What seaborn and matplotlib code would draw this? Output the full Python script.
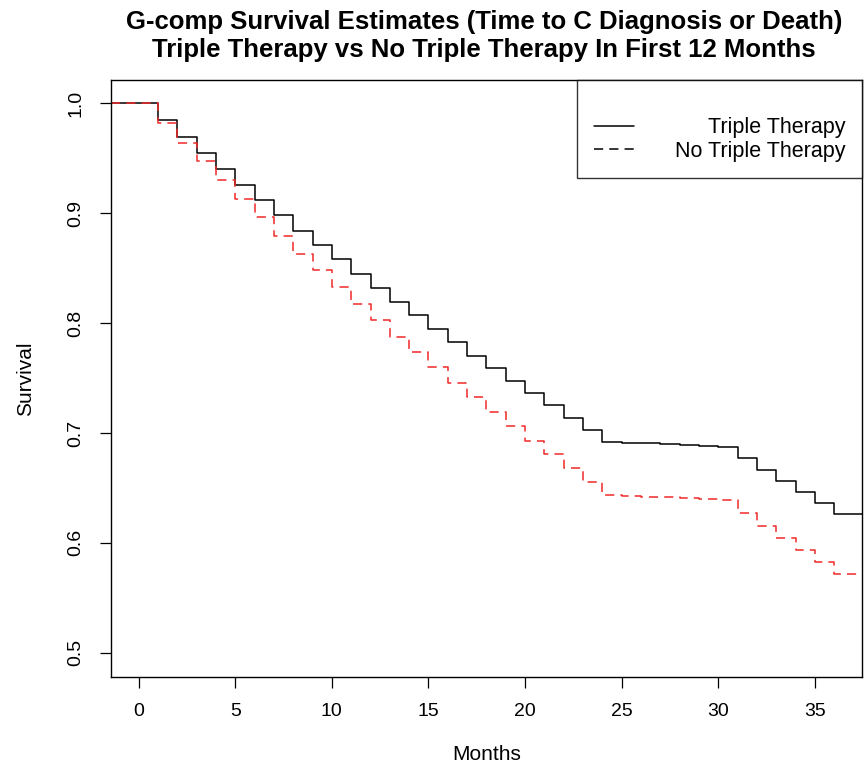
import matplotlib
matplotlib.use("Agg")
import matplotlib.pyplot as plt
import numpy as np
import pandas as pd
import seaborn as sns
from matplotlib.lines import Line2D

# survival estimate on each month interval [m, m+1)
months = list(range(0, 37))
triple = [1.0, 0.9845, 0.969, 0.955, 0.940, 0.926, 0.912, 0.898, 0.884, 0.871,
          0.858, 0.845, 0.832, 0.8195, 0.807, 0.7945, 0.7825, 0.770, 0.759, 0.747,
          0.736, 0.725, 0.714, 0.703, 0.692, 0.691, 0.6905, 0.690, 0.689, 0.688,
          0.6873, 0.677, 0.6667, 0.6567, 0.6467, 0.6367, 0.6267]
no_triple = [1.0, 0.982, 0.964, 0.947, 0.930, 0.913, 0.896, 0.879, 0.863, 0.848,
             0.8325, 0.8176, 0.8027, 0.7876, 0.7733, 0.760, 0.7458, 0.7324, 0.7191, 0.706,
             0.693, 0.6806, 0.668, 0.6558, 0.6436, 0.643, 0.642, 0.6415, 0.641, 0.640,
             0.639, 0.627, 0.6155, 0.6045, 0.5934, 0.5824, 0.5718]
groups = ["Triple Therapy", "No Triple Therapy"]

XLIM = (-1.44, 37.44)
YLIM = (0.478, 1.021)

sns.set_theme(style="ticks")
plt.rcParams.update({
    "font.family": ["Liberation Sans", "DejaVu Sans"],
    "axes.edgecolor": "black",
    "axes.linewidth": 1.0,
    "xtick.color": "black",
    "ytick.color": "black",
    "text.color": "black",
    "axes.labelcolor": "black",
    "xtick.major.size": 8,
    "ytick.major.size": 8,
    "xtick.major.width": 0.9,
    "ytick.major.width": 0.9,
})

# long table; curves carried to the plot edges like the original step plot
frames = []
for name, vals in zip(groups, [triple, no_triple]):
    t = [XLIM[0]] + months + [XLIM[1]]
    v = [vals[0]] + vals + [vals[-1]]
    frames.append(pd.DataFrame({"month": t, "survival": v, "group": name}))
df = pd.concat(frames, ignore_index=True)

fig = plt.figure(figsize=(8.66, 7.70), dpi=100)
ax = fig.add_axes([0.128, 0.1208, 0.8674, 0.7752])

sns.lineplot(data=df, x="month", y="survival", hue="group", style="group",
             hue_order=groups, style_order=groups,
             palette={"Triple Therapy": "black", "No Triple Therapy": "#f02a2a"},
             dashes={"Triple Therapy": "", "No Triple Therapy": (6, 4)},
             drawstyle="steps-post", estimator=None, sort=False,
             linewidth=1.1, legend=False, ax=ax)

ax.set_xlim(*XLIM)
ax.set_ylim(*YLIM)
ax.set_xticks(np.arange(0, 36, 5))
ax.set_yticks([0.5, 0.6, 0.7, 0.8, 0.9, 1.0])
ax.set_yticklabels(["0.5", "0.6", "0.7", "0.8", "0.9", "1.0"], rotation=90, va="center")
ax.tick_params(axis="both", labelsize=14, pad=11)
for s in ax.spines.values():
    s.set_visible(True)
    s.set_color("black")

ax.set_xlabel("Months", fontsize=15, labelpad=18)
ax.set_ylabel("Survival", fontsize=15, labelpad=23)
fig.text(0.559, 0.987, "G-comp Survival Estimates (Time to C Diagnosis or Death)\n"
         "Triple Therapy vs No Triple Therapy In First 12 Months",
         ha="center", va="top", fontsize=18.5, fontweight="bold", linespacing=1.2)

# legend: handles on the left, labels right-aligned as in the R original
handles = [Line2D([], [], color="black", lw=1.1),
           Line2D([], [], color="black", lw=1.1, dashes=(6, 4))]
leg = ax.legend(handles, groups, loc="upper right", frameon=True, fancybox=False,
                borderaxespad=0, fontsize=15.5, title=" ", title_fontsize=15,
                handlelength=1.9, handletextpad=1.9, borderpad=0.75,
                labelspacing=0.1)
leg.get_frame().set_edgecolor("black")
leg.get_frame().set_linewidth(1.0)
fig.canvas.draw()
renderer = fig.canvas.get_renderer()
widths = [t.get_window_extent(renderer).width for t in leg.get_texts()]
for t, w in zip(leg.get_texts(), widths):
    t.set_position((max(widths) - w, 0))

fig.savefig("out.png", dpi=100)
